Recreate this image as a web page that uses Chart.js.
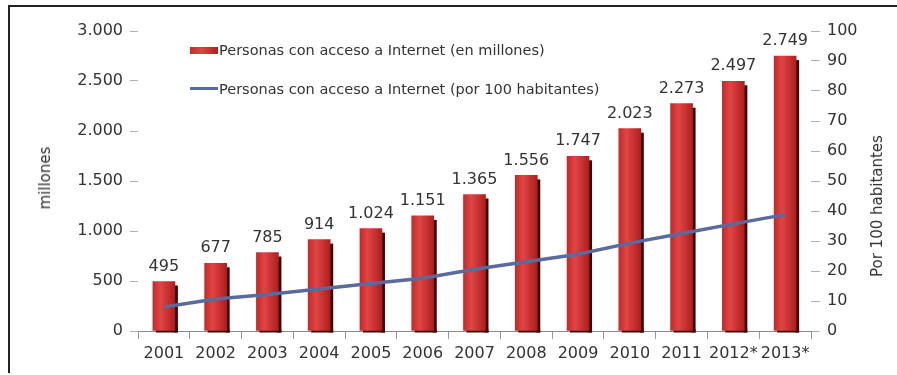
<!DOCTYPE html>
<html lang="es">
<head>
<meta charset="utf-8">
<title>Personas con acceso a Internet</title>
<script src="https://cdn.jsdelivr.net/npm/chart.js@4/dist/chart.umd.min.js"></script>
<style>
  html, body { margin: 0; padding: 0; background: #fff; }
  #wrap { position: relative; width: 897px; height: 375px; overflow: hidden;
          font-family: "DejaVu Sans", Verdana, sans-serif; color: #333; }
  #frame { position: absolute; left: 8px; top: 5px; right: -4px; bottom: 2px;
           border-left: 2px solid #222; border-top: 2px solid #222; }
  #chart { position: absolute; left: 0; top: 0; }
  .ytitle { position: absolute; font-size: 15px; white-space: nowrap;
            transform: translate(-50%, -50%) rotate(-90deg); }
  .leg { position: absolute; font-size: 14.5px; white-space: nowrap; line-height: 16px; }
  .sw-bar { position: absolute; width: 28px; height: 7px;
            background: linear-gradient(to right, #c62a2a, #e04444 40%, #b01e1e); }
  .sw-line { position: absolute; width: 28px; height: 3px; background: #5b6a9c; }
</style>
</head>
<body>
<div id="wrap">
  <div id="frame"></div>
  <canvas id="chart" width="897" height="375"></canvas>
  <div class="ytitle" style="left:45px; top:178px;">millones</div>
  <div class="ytitle" style="left:877px; top:206px;">Por 100 habitantes</div>
  <div class="sw-bar" style="left:190px; top:47px;"></div>
  <div class="leg" style="left:219px; top:42px;" id="leg0"></div>
  <div class="sw-line" style="left:190px; top:87px;"></div>
  <div class="leg" style="left:219px; top:81px;" id="leg1"></div>
</div>
<script>
// Years (2012 and 2013 are estimates)
const years = ['2001', '2002', '2003', '2004', '2005', '2006', '2007',
               '2008', '2009', '2010', '2011', '2012*', '2013*'];
// People with Internet access, millions
const usersMillions = [495, 677, 785, 914, 1024, 1151, 1365, 1556, 1747, 2023, 2273, 2497, 2749];
// People with Internet access per 100 inhabitants
const usersPer100 = [8.0, 10.7, 12.2, 14.0, 15.8, 17.6, 20.6, 23.1, 25.6, 29.3, 32.5, 35.7, 38.8];
const seriesNames = ['Personas con acceso a Internet (en millones)',
                     'Personas con acceso a Internet (por 100 habitantes)'];

const FONT = '"DejaVu Sans", Verdana, sans-serif';
const TEXT = '#333';
const BAR_W = 22;

document.getElementById('leg0').textContent = seriesNames[0];
document.getElementById('leg1').textContent = seriesNames[1];

// Spanish thousands separator
const fmt = v => String(v).replace(/\B(?=(\d{3})+(?!\d))/g, '.');

// Red bar face with a horizontal shading
function barFill(ctx) {
  const chart = ctx.chart;
  const xs = chart.scales && chart.scales.x;
  if (!xs || ctx.dataIndex === undefined) return '#d03434';
  const cx = xs.getPixelForValue(ctx.dataIndex);
  if (!isFinite(cx)) return '#d03434';
  const g = chart.ctx.createLinearGradient(cx - BAR_W / 2, 0, cx + BAR_W / 2, 0);
  g.addColorStop(0, '#c42a2a');
  g.addColorStop(0.35, '#e04545');
  g.addColorStop(1, '#ae1e1e');
  return g;
}

// Dark side strip behind each bar for a raised look
const barShadow = {
  id: 'barShadow',
  beforeDatasetDraw(chart, args) {
    if (args.index !== 1) return;
    const c = chart.ctx;
    c.save();
    c.fillStyle = '#3c0606';
    args.meta.data.forEach(el => {
      const right = el.x + el.width / 2;
      c.fillRect(right - 1, el.y + 4, 4, el.base - el.y - 2);
      c.fillRect(el.x - el.width / 2 + 3, el.base - 1, el.width, 3);
    });
    c.restore();
  }
};

// Value labels above the bars
const barLabels = {
  id: 'barLabels',
  afterDatasetsDraw(chart) {
    const meta = chart.getDatasetMeta(1);
    const c = chart.ctx;
    c.save();
    c.font = '16px ' + FONT;
    c.fillStyle = TEXT;
    c.textAlign = 'center';
    c.textBaseline = 'middle';
    meta.data.forEach((el, i) => {
      c.fillText(fmt(usersMillions[i]), el.x, el.y - 15);
    });
    c.restore();
  }
};

new Chart(document.getElementById('chart'), {
  data: {
    labels: years,
    datasets: [
      {
        type: 'line',
        label: seriesNames[1],
        data: usersPer100,
        yAxisID: 'y1',
        borderColor: '#5b6a9c',
        borderWidth: 3.5,
        pointRadius: 0,
        tension: 0,
        order: 0
      },
      {
        type: 'bar',
        label: seriesNames[0],
        data: usersMillions,
        yAxisID: 'y',
        backgroundColor: barFill,
        barThickness: BAR_W,
        order: 1
      }
    ]
  },
  options: {
    responsive: false,
    animation: false,
    events: [],
    layout: { padding: { top: 31, left: 0, right: 0, bottom: 0 } },
    plugins: { legend: { display: false }, tooltip: { enabled: false } },
    scales: {
      x: {
        offset: true,
        grid: { display: true, drawOnChartArea: false, drawTicks: true, tickLength: 8,
                color: '#999', offset: true },
        border: { display: true, color: '#8a8a8a', width: 1 },
        ticks: { color: TEXT, font: { family: FONT, size: 16 }, padding: 5,
                 maxRotation: 0, autoSkip: false },
        afterFit(s) { s.height = 44; }
      },
      y: {
        position: 'left',
        min: 0, max: 3000,
        ticks: { stepSize: 500, color: TEXT, font: { family: FONT, size: 16 }, padding: 7,
                 callback: v => fmt(v) },
        grid: { display: true, drawOnChartArea: false, drawTicks: true, tickLength: 8,
                color: '#b0b0b0' },
        border: { display: false },
        afterFit(s) { s.width = 138; }
      },
      y1: {
        position: 'right',
        min: 0, max: 100,
        ticks: { stepSize: 10, color: TEXT, font: { family: FONT, size: 16 }, padding: 7 },
        grid: { display: true, drawOnChartArea: false, drawTicks: true, tickLength: 9,
                color: '#b0b0b0' },
        border: { display: false },
        afterFit(s) { s.width = 86; }
      }
    }
  },
  plugins: [barShadow, barLabels]
});
</script>
</body>
</html>
